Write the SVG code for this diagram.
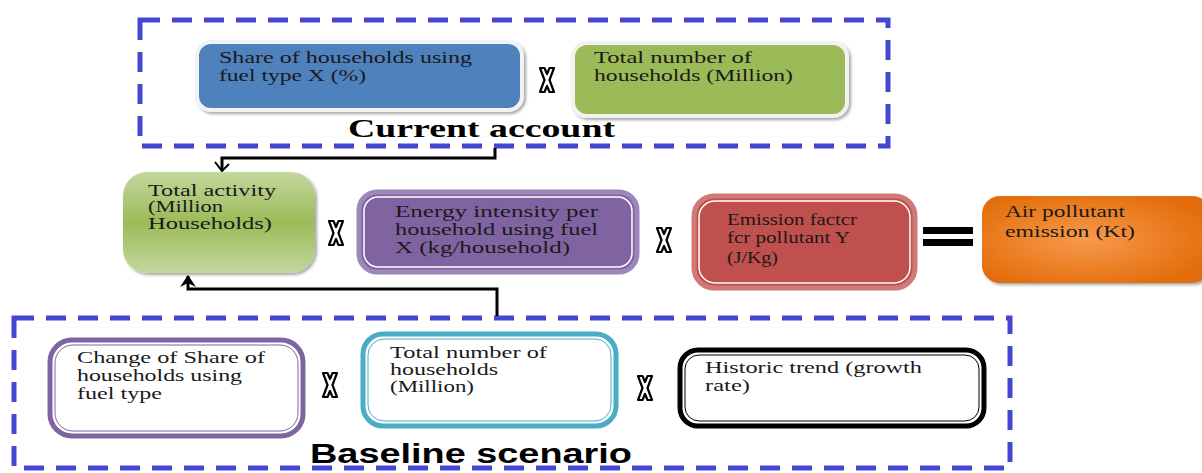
<svg xmlns="http://www.w3.org/2000/svg" width="1202" height="473" viewBox="0 0 1202 473">
<style>
.t{font-family:"Liberation Serif","Times New Roman",serif;font-size:16px;fill:#1a1a1a}
.dash{fill:none;stroke:#4547cf;stroke-width:5;stroke-dasharray:20 12}
.con{fill:none;stroke:#000;stroke-width:3}
.xs{fill:#fff;stroke:#000;stroke-width:2.2;stroke-linejoin:round}
.inner{fill:none;stroke:#fff;stroke-width:1.5}
</style>
<defs>
<filter id="sh" x="-10%" y="-10%" width="125%" height="130%">
<feDropShadow dx="2" dy="2" stdDeviation="1.5" flood-color="#000" flood-opacity="0.35"/>
</filter>
<linearGradient id="gAct" x1="0" y1="0" x2="0" y2="1">
<stop offset="0" stop-color="#c4d79e"/>
<stop offset="0.5" stop-color="#9bbb59"/>
<stop offset="1" stop-color="#c4d79e"/>
</linearGradient>
<radialGradient id="gOr" cx="0.45" cy="0.5" r="0.6">
<stop offset="0" stop-color="#f79a4c"/>
<stop offset="1" stop-color="#e36c0a"/>
</radialGradient>
<path id="xsym" class="xs" d="M-7,-12 L-2.5,-12 L0,-6 L2.5,-12 L7,-12 L2.5,0 L7,12 L2.5,12 L0,6 L-2.5,12 L-7,12 L-2.5,0 z"/>
<marker id="openArr" viewBox="0 0 16 14" refX="8" refY="13" markerWidth="16" markerHeight="14" markerUnits="userSpaceOnUse" orient="0">
<path d="M1,4 L8,13 L15,6" fill="none" stroke="#000" stroke-width="2"/>
</marker>
<marker id="solidArr" viewBox="0 0 16 14" refX="8" refY="1" markerWidth="16" markerHeight="14" markerUnits="userSpaceOnUse" orient="0">
<path d="M8,0 L16,12 L8,8 L0,12 z" fill="#000"/>
</marker>
</defs>

<rect class="dash" x="140" y="20" width="748" height="126"/>
<rect class="dash" x="14" y="318" width="996" height="150"/>

<g id="connectors">
<path class="con" d="M495,148 V158 H222 V171" marker-end="url(#openArr)"/>
<path class="con" d="M497,316 V289 H188 V276" marker-end="url(#solidArr)"/>
</g>

<g id="share">
<rect x="197" y="42" width="325" height="68" rx="14" fill="#4f81bd" stroke="#f2f2f2" stroke-width="4" filter="url(#sh)"/>
<text class="t" x="219" y="63" textLength="253" lengthAdjust="spacingAndGlyphs">Share of households using</text>
<text class="t" x="219" y="81" textLength="147" lengthAdjust="spacingAndGlyphs">fuel type X (%)</text>
</g>
<use href="#xsym" x="547" y="80"/>
<g id="totalTop">
<rect x="573" y="43" width="274" height="73" rx="14" fill="#9bbb59" stroke="#f2f2f2" stroke-width="4" filter="url(#sh)"/>
<text class="t" x="594" y="63" textLength="158" lengthAdjust="spacingAndGlyphs">Total number of</text>
<text class="t" x="594" y="81" textLength="199" lengthAdjust="spacingAndGlyphs">households (Million)</text>
</g>
<text x="348" y="137" font-family="Liberation Serif,serif" font-weight="bold" font-size="25" fill="#000" textLength="267" lengthAdjust="spacingAndGlyphs">Current account</text>

<g id="activity">
<rect x="123" y="172" width="192" height="101" rx="24" fill="url(#gAct)" filter="url(#sh)"/>
<text class="t" x="148" y="196" textLength="128" lengthAdjust="spacingAndGlyphs">Total activity</text>
<text class="t" x="148" y="212" textLength="75" lengthAdjust="spacingAndGlyphs">(Million</text>
<text class="t" x="148" y="229" textLength="124" lengthAdjust="spacingAndGlyphs">Households)</text>
</g>
<use href="#xsym" x="336" y="233"/>
<g id="intensity">
<rect x="359" y="192" width="278" height="80" rx="18" fill="#8064a2" stroke="#9c86bb" stroke-width="5"/>
<rect class="inner" x="364" y="197" width="268" height="70" rx="14"/>
<text class="t" x="395" y="217" textLength="203" lengthAdjust="spacingAndGlyphs">Energy intensity per</text>
<text class="t" x="395" y="235" textLength="203" lengthAdjust="spacingAndGlyphs">household using fuel</text>
<text class="t" x="395" y="253" textLength="175" lengthAdjust="spacingAndGlyphs">X (kg/household)</text>
</g>
<use href="#xsym" x="664" y="240"/>
<g id="emission">
<rect x="694" y="196" width="221" height="92" rx="20" fill="#c0504d" stroke="#cf7a77" stroke-width="5"/>
<rect class="inner" x="699" y="201" width="211" height="82" rx="16"/>
<text class="t" x="727" y="225" textLength="130" lengthAdjust="spacingAndGlyphs">Emission factcr</text>
<text class="t" x="727" y="243" textLength="123" lengthAdjust="spacingAndGlyphs">fcr pollutant Y</text>
<text class="t" x="727" y="263" textLength="51" lengthAdjust="spacingAndGlyphs">(J/Kg)</text>
</g>
<rect x="923" y="227" width="50" height="7" fill="#000"/>
<rect x="923" y="239" width="50" height="7" fill="#000"/>
<g id="pollutant">
<rect x="982" y="196" width="228" height="87" rx="18" fill="url(#gOr)" filter="url(#sh)"/>
<text class="t" x="1005" y="217" textLength="120" lengthAdjust="spacingAndGlyphs">Air pollutant</text>
<text class="t" x="1005" y="237" textLength="130" lengthAdjust="spacingAndGlyphs">emission (Kt)</text>
</g>

<g id="change">
<rect x="50" y="340" width="253" height="96" rx="22" fill="#fff" stroke="#8064a2" stroke-width="5"/>
<rect x="55" y="345" width="243" height="86" rx="18" fill="none" stroke="#8064a2" stroke-width="1"/>
<text class="t" x="77" y="363" textLength="188" lengthAdjust="spacingAndGlyphs">Change of Share of</text>
<text class="t" x="77" y="381" textLength="165" lengthAdjust="spacingAndGlyphs">households using</text>
<text class="t" x="77" y="399" textLength="85" lengthAdjust="spacingAndGlyphs">fuel type</text>
</g>
<use href="#xsym" x="330" y="385"/>
<g id="totalBase">
<rect x="363" y="334" width="253" height="92" rx="20" fill="#fff" stroke="#4bacc6" stroke-width="5"/>
<rect x="368" y="339" width="243" height="82" rx="16" fill="none" stroke="#4bacc6" stroke-width="1"/>
<text class="t" x="390" y="358" textLength="157" lengthAdjust="spacingAndGlyphs">Total number of</text>
<text class="t" x="390" y="375" textLength="108" lengthAdjust="spacingAndGlyphs">households</text>
<text class="t" x="390" y="392" textLength="84" lengthAdjust="spacingAndGlyphs">(Million)</text>
</g>
<use href="#xsym" x="645" y="388"/>
<g id="historic">
<rect x="680" y="350" width="304" height="76" rx="18" fill="#fff" stroke="#000" stroke-width="5"/>
<rect x="685" y="355" width="294" height="66" rx="14" fill="none" stroke="#000" stroke-width="1"/>
<text class="t" x="705" y="373" textLength="217" lengthAdjust="spacingAndGlyphs">Historic trend (growth</text>
<text class="t" x="705" y="391" textLength="45" lengthAdjust="spacingAndGlyphs">rate)</text>
</g>
<text x="310" y="463" font-family="Liberation Sans,Arial,sans-serif" font-weight="bold" font-size="27" fill="#000" textLength="322" lengthAdjust="spacingAndGlyphs">Baseline scenario</text>
</svg>
